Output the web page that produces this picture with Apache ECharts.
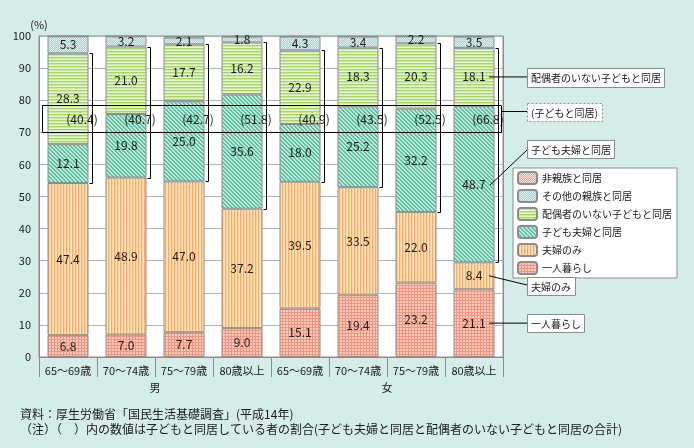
<!DOCTYPE html>
<html><head><meta charset="utf-8">
<script src="https://cdn.jsdelivr.net/npm/echarts@6/dist/echarts.min.js"></script>
<style>html,body{margin:0;padding:0;background:#d5ede8}#main{width:694px;height:448px}</style>
</head><body><div id="main"></div>
<script>
// ---- data ----
const categories = ['65～69歳','70～74歳','75～79歳','80歳以上','65～69歳','70～74歳','75～79歳','80歳以上'];
const groups = ['男','女'];
const yTicks = [0,10,20,30,40,50,60,70,80,90,100];
const alone = [6.8,7.0,7.7,9.0,15.1,19.4,23.2,21.1];
const coupleOnly = [47.4,48.9,47.0,37.2,39.5,33.5,22.0,8.4];
const withChildCouple = [12.1,19.8,25.0,35.6,18.0,25.2,32.2,48.7];
const withSingleChild = [28.3,21.0,17.7,16.2,22.9,18.3,20.3,18.1];
const withOtherRelatives = [5.3,3.2,2.1,1.8,4.3,3.4,2.2,3.5];
const withNonRelatives = [0.1,0.1,0.5,0.2,0.2,0.2,0.1,0.2];
const withChildTotal = [40.4,40.7,42.7,51.8,40.9,43.5,52.5,66.8];
const seriesNames = ['一人暮らし','夫婦のみ','子ども夫婦と同居','配偶者のいない子どもと同居','その他の親族と同居','非親族と同居'];
const notes = ['資料：厚生労働省「国民生活基礎調査」(平成14年)','（注）（　）内の数値は子どもと同居している者の割合(子ども夫婦と同居と配偶者のいない子どもと同居の合計)'];
const calloutTexts = ['配偶者のいない子どもと同居','(子どもと同居)','子ども夫婦と同居','夫婦のみ','一人暮らし'];

// ---- styles ----
const FONT = '"Noto Sans CJK JP","Noto Sans",sans-serif';
function pattern(w, h, fn) {
  const c = document.createElement('canvas'); c.width = w; c.height = h;
  const ctx = c.getContext('2d');
  for (let y = 0; y < h; y++) for (let x = 0; x < w; x++) { ctx.fillStyle = fn(x, y); ctx.fillRect(x, y, 1, 1); }
  return { image: c, repeat: 'repeat' };
}
const pats = [
  pattern(3,3,(x,y)=> (x%3===0||y%3===0) ? '#f2957f' : '#fccbbd'),
  pattern(3,1,(x)=> ['#ffab5e','#ffd2a0','#ffe6c8'][x]),
  pattern(4,4,(x,y)=> ((x - y + 8) % 4 < 2) ? '#5bc0a0' : '#c3ebdd'),
  pattern(1,3,(x,y)=> ['#a6d66a','#cbeaa4','#e9f6d5'][y]),
  pattern(2,2,(x,y)=> ((x+y)%2) ? '#a6cfd0' : '#e2f1f0'),
  pattern(2,2,(x,y)=> ((x+y)%2) ? '#d3ab98' : '#f5e9df')
];
const seriesData = [alone, coupleOnly, withChildCouple, withSingleChild, withOtherRelatives, withNonRelatives];

const chart = echarts.init(document.getElementById('main'));
const bars = seriesData.map((d, k) => ({
  name: seriesNames[k], type: 'bar', stack: 'total', barWidth: 41, data: d,
  itemStyle: { color: pats[k], borderColor: '#8c8c8c', borderWidth: 1 },
  label: { show: k < 5, position: 'inside', formatter: p => p.value.toFixed(1), color: '#1a1a1a', fontSize: 12, fontFamily: FONT },
  emphasis: { disabled: true }
}));
const bracketData = categories.map((c, i) => [i, alone[i] + coupleOnly[i], alone[i] + coupleOnly[i] + withChildCouple[i] + withSingleChild[i], withChildTotal[i]]);
const bracketSeries = {
  type: 'custom', data: bracketData, z: 5, silent: true,
  renderItem: (params, api) => {
    const i = api.value(0);
    const pLo = api.coord([i, api.value(1)]);
    const pHi = api.coord([i, api.value(2)]);
    const pT = api.coord([i, 74]);
    const x = Math.round(pLo[0] + 24) + 0.5;
    const yLo = Math.round(pLo[1]) + 0.5, yHi = Math.round(pHi[1]) + 0.5;
    return { type: 'group', children: [
      { type: 'polyline', shape: { points: [[x - 3, yHi], [x, yHi], [x, yLo], [x - 3, yLo]] }, style: { stroke: '#000', fill: null, lineWidth: 1 } },
      { type: 'text', style: { text: '(' + api.value(3).toFixed(1) + ')', x: pLo[0] + 14, y: pT[1], align: 'center', verticalAlign: 'middle', font: '12px ' + FONT, fill: '#1a1a1a' } }
    ] };
  }
};

chart.setOption({
  animation: false,
  backgroundColor: '#d5ede8',
  grid: { left: 39, top: 36, width: 464, height: 321, show: true, backgroundColor: '#fff', borderColor: '#8c8c8c', borderWidth: 1 },
  legend: {
    data: seriesNames.slice().reverse(), orient: 'vertical', left: 513, top: 168,
    itemWidth: 19, itemHeight: 12, itemGap: 4, padding: [3, 5, 3, 4],
    backgroundColor: '#fff', borderColor: '#8c8c8c', borderWidth: 1,
    textStyle: { fontSize: 10, fontFamily: FONT, color: '#1a1a1a' }, selectedMode: false
  },
  xAxis: {
    type: 'category', data: categories,
    axisLine: { lineStyle: { color: '#8c8c8c' } },
    axisTick: { show: true, interval: 0, length: 20, lineStyle: { color: '#8c8c8c' } },
    axisLabel: { interval: 0, margin: 8, fontSize: 11, fontFamily: FONT, color: '#1a1a1a' },
    splitLine: { show: true, interval: (i) => i === 4, lineStyle: { color: '#8c8c8c' } }
  },
  yAxis: {
    type: 'value', min: 0, max: 100, interval: 10,
    name: '(%)', nameLocation: 'end', nameGap: 6,
    nameTextStyle: { fontSize: 11, fontFamily: FONT, color: '#1a1a1a', align: 'center' },
    axisLine: { show: true, lineStyle: { color: '#8c8c8c' } },
    axisTick: { show: false },
    axisLabel: { margin: 8, fontSize: 11, fontFamily: FONT, color: '#1a1a1a', formatter: v => yTicks.includes(v) ? String(v) : '' },
    splitLine: { lineStyle: { color: '#aab2ba' } }
  },
  series: [...bars, bracketSeries]
});

// ---- annotations ----
const P = (i, v) => chart.convertToPixel({ xAxisIndex: 0, yAxisIndex: 0 }, [i, v]);
const last = categories.length - 1;
const cx = P(last, 0)[0];
const stackBase = (k, i) => seriesData.slice(0, k).reduce((s, d) => s + d[i], 0);
const segMid = (k, i) => P(i, stackBase(k, i) + seriesData[k][i] / 2)[1];
const r1 = Math.round(P(0, 78.5)[1]) + 0.5, r2 = Math.round(P(0, 70)[1]) + 0.5;
const boxes = [
  { y: 68, w: 137, h: 19 },
  { y: 103, w: 75, h: 18, dashed: true },
  { y: 140, w: 87, h: 18 },
  { y: 277, w: 48, h: 18 },
  { y: 314, w: 57, h: 18 }
];
const g = [];
g.push({ type: 'rect', shape: { x: 42.5, y: r1, width: 459, height: r2 - r1 }, style: { fill: null, stroke: '#000', lineWidth: 1 }, z: 10 });
boxes.forEach((b, k) => {
  g.push({ type: 'rect', shape: { x: 527.5, y: b.y + 0.5, width: b.w, height: b.h }, style: { fill: '#fff', stroke: '#8c8c8c', lineWidth: 1, lineDash: b.dashed ? [2, 2] : null }, z: 10 });
  g.push({ type: 'text', style: { text: calloutTexts[k], x: 531, y: b.y + b.h / 2 + 1, verticalAlign: 'middle', font: '10px ' + FONT, fill: '#1a1a1a' }, z: 11 });
});
const lines = [
  [[cx + 15, segMid(3, last)], [527, segMid(3, last)]],
  [[501, 111.5], [527, 111.5]],
  [[cx + 16, segMid(2, last) + 1], [527, 150]],
  [[cx + 15, segMid(1, last)], [527, 285]],
  [[cx + 15, segMid(0, last)], [527, segMid(0, last)]]
];
lines.forEach(l => g.push({ type: 'polyline', shape: { points: l }, style: { stroke: '#000', lineWidth: 1, fill: null }, z: 10 }));
groups.forEach((t, k) => {
  const a = P(k * 4 + 1, 0)[0], b = P(k * 4 + 2, 0)[0];
  g.push({ type: 'text', style: { text: t, x: (a + b) / 2, y: 388, align: 'center', verticalAlign: 'middle', font: '11px ' + FONT, fill: '#1a1a1a' } });
});
notes.forEach((t, k) => {
  g.push({ type: 'text', style: { text: t, x: 20, y: 414 + k * 15, verticalAlign: 'middle', font: '12px ' + FONT, fill: '#1a1a1a' } });
});
chart.setOption({ graphic: g });
</script></body></html>
